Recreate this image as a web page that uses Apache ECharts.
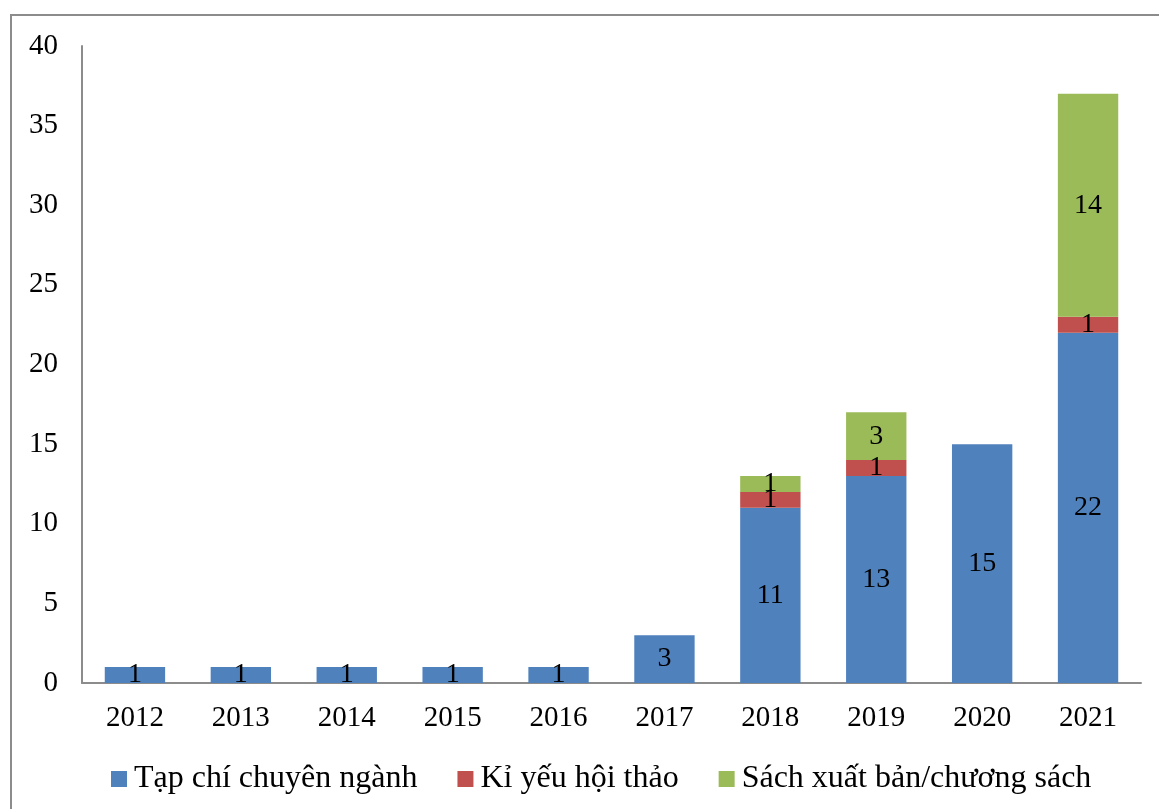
<!DOCTYPE html>
<html>
<head>
<meta charset="utf-8">
<script src="https://cdn.jsdelivr.net/npm/echarts@6/dist/echarts.min.js"></script>
<style>
  html, body { margin: 0; padding: 0; background: #fff; }
  #frame {
    position: absolute; left: 10px; top: 14px; width: 1160px; height: 810px;
    border: 2px solid #8c8c8c; box-sizing: border-box;
  }
  #chart { position: absolute; left: 0; top: 0; width: 1159px; height: 809px; }
</style>
</head>
<body>
<div id="frame"></div>
<div id="chart"></div>
<script>
const years = ["2012", "2013", "2014", "2015", "2016", "2017", "2018", "2019", "2020", "2021"];
const tapChi = [1, 1, 1, 1, 1, 3, 11, 13, 15, 22];
const kiYeu = [0, 0, 0, 0, 0, 0, 1, 1, 0, 1];
const sach = [0, 0, 0, 0, 0, 0, 1, 3, 0, 14];
const seriesNames = ["Tạp chí chuyên ngành", "Kỉ yếu hội thảo", "Sách xuất bản/chương sách"];
const colors = ["#4F81BD", "#C0504D", "#9BBB59"];

const font = "'Liberation Serif', 'DejaVu Serif', serif";

function makeSeries(name, data, color) {
  return {
    name: name,
    type: "bar",
    stack: "total",
    barWidth: "57%",
    data: data,
    itemStyle: { color: color },
    label: {
      show: true,
      position: "inside",
      color: "#000",
      fontFamily: font,
      fontSize: 28,
      formatter: (p) => (p.value ? p.value : ""),
    },
  };
}

const option = {
  animation: false,
  grid: { left: 82, right: 18, top: 46, bottom: 126 },
  legend: {
    data: seriesNames,
    top: 758,
    left: 106,
    itemWidth: 16,
    itemHeight: 16,
    itemGap: 40,
    icon: "rect",
    textStyle: { fontFamily: font, fontSize: 32, color: "#000", padding: [0, 0, 0, 2] },
  },
  xAxis: {
    type: "category",
    data: years,
    axisLine: { lineStyle: { color: "#8c8c8c", width: 2 } },
    axisTick: { show: false },
    axisLabel: { fontFamily: font, fontSize: 29, color: "#000", margin: 21 },
  },
  yAxis: {
    type: "value",
    min: 0,
    max: 40,
    interval: 5,
    axisLine: { show: true, lineStyle: { color: "#8c8c8c", width: 2 } },
    axisTick: { show: false },
    splitLine: { show: false },
    axisLabel: { fontFamily: font, fontSize: 29, color: "#000", margin: 24 },
  },
  series: [
    makeSeries(seriesNames[0], tapChi, colors[0]),
    makeSeries(seriesNames[1], kiYeu, colors[1]),
    makeSeries(seriesNames[2], sach, colors[2]),
  ],
};

echarts.init(document.getElementById("chart")).setOption(option);
</script>
</body>
</html>
